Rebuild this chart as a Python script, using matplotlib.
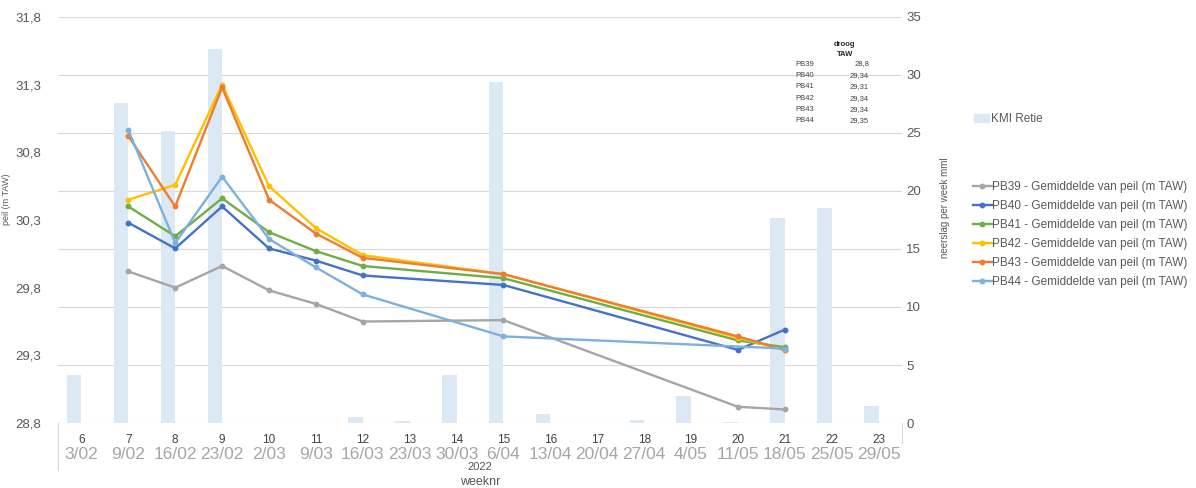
import numpy as np
import matplotlib.pyplot as plt
from matplotlib.lines import Line2D

plt.rcParams['font.family'] = ['Liberation Sans', 'DejaVu Sans']

weeks = [6, 7, 8, 9, 10, 11, 12, 13, 14, 15, 16, 17, 18, 19, 20, 21, 22, 23]
dates = ['3/02', '9/02', '16/02', '23/02', '2/03', '9/03', '16/03', '23/03', '30/03',
         '6/04', '13/04', '20/04', '27/04', '4/05', '11/05', '18/05', '25/05', '29/05']
rain = [4.1, 27.6, 25.2, 32.2, 0, 0, 0.5, 0.2, 4.1, 29.4, 0.8, 0, 0.3, 2.3, 0.1, 17.7, 18.5, 1.5]

meas_weeks = [7, 8, 9, 10, 11, 12, 15, 20, 21]
pb39 = [29.92, 29.80, 29.96, 29.78, 29.68, 29.55, 29.56, 28.92, 28.90]
pb40 = [30.28, 30.09, 30.40, 30.09, 30.00, 29.89, 29.82, 29.34, 29.49]
pb41 = [30.40, 30.18, 30.46, 30.21, 30.07, 29.96, 29.87, 29.41, 29.36]
pb42 = [30.45, 30.56, 31.30, 30.55, 30.24, 30.04, 29.90, 29.43, 29.34]
pb43 = [30.92, 30.40, 31.28, 30.45, 30.20, 30.02, 29.90, 29.44, 29.34]
pb44_weeks = [7, 8, 9, 10, 11, 12, 15, 21]
pb44 = [30.965, 30.13, 30.62, 30.16, 29.95, 29.75, 29.44, 29.35]

droog_names = ['PB39', 'PB40', 'PB41', 'PB42', 'PB43', 'PB44']
droog_vals = ['28,8', '29,34', '29,31', '29,34', '29,34', '29,35']

W, H = 1196, 488
fig = plt.figure(figsize=(W / 100, H / 100), dpi=100)
fig.patch.set_facecolor('white')
ax = fig.add_axes([58 / W, 65 / H, 844 / W, 406 / H])
ax2 = ax.twinx()

idx = {w: i for i, w in enumerate(weeks)}
x = np.arange(len(weeks))

# bars (right axis), drawn under the lines
ax2.bar(x, rain, width=-0.31, align='edge', color='#dde8f5', zorder=2)
ax2.set_ylim(0, 35)
ax2.set_yticks(range(0, 36, 5))
ax2.grid(axis='y', color='#d9d9d9', linewidth=0.8, zorder=0)
ax2.set_axisbelow(True)

ax.set_zorder(ax2.get_zorder() + 1)
ax.patch.set_visible(False)

series = [
    ('PB39', meas_weeks, pb39, '#a5a5a5'),
    ('PB40', meas_weeks, pb40, '#4472c4'),
    ('PB41', meas_weeks, pb41, '#70ad47'),
    ('PB42', meas_weeks, pb42, '#ffc000'),
    ('PB43', meas_weeks, pb43, '#ed7d31'),
    ('PB44', pb44_weeks, pb44, '#7eb0de'),
]
handles = []
for name, wk, vals, col in series:
    h, = ax.plot([idx[w] for w in wk], vals, color=col, lw=1.7, marker='o', ms=3.2,
                 label=name + ' - Gemiddelde van peil (m TAW)')
    handles.append(h)

ax.set_xlim(-0.5, len(weeks) - 0.5)
ax.set_ylim(28.8, 31.8)
ax.set_yticks(np.arange(28.8, 31.81, 0.5))
ax.set_yticklabels([('%.1f' % v).replace('.', ',') for v in np.arange(28.8, 31.81, 0.5)])
ax.set_xticks([])

for a in (ax, ax2):
    for s in a.spines.values():
        s.set_visible(False)
    a.tick_params(length=0, labelsize=9.5, labelcolor='#595959')
ax.tick_params(axis='y', pad=12)
ax2.tick_params(axis='y', pad=3)

ax.set_ylabel('peil (m TAW)', fontsize=6.5, color='#595959')
ax.yaxis.set_label_coords(-0.056, 0.55)
ax2.set_ylabel('neerslag per week mml', fontsize=7, color='#595959')
ax2.yaxis.set_label_coords(1.045, 0.53)

# multi-level category axis
tr = ax.get_xaxis_transform()
for i, (w, d) in enumerate(zip(weeks, dates)):
    ax.text(i, -0.043, str(w), transform=tr, ha='center', va='center', fontsize=8.5, color='#404040')
    ax.text(i, -0.078, d, transform=tr, ha='center', va='center', fontsize=12.5, color='#a6a6a6')
ax.text((len(weeks) - 1) / 2, -0.108, '2022', transform=tr, ha='center', va='center',
        fontsize=8, color='#595959')
ax.text((len(weeks) - 1) / 2, -0.145, 'weeknr', transform=tr, ha='center', va='center',
        fontsize=9, color='#595959')
fig.add_artist(Line2D([58 / W, 58 / W], [65 / H, 18 / H], color='#d9d9d9', lw=0.8))
fig.add_artist(Line2D([902 / W, 902 / W], [65 / H, 45 / H], color='#d9d9d9', lw=0.8))

# small table
fig.text(845 / W, 1 - 44 / H, 'droog', ha='center', va='center', fontsize=5.5, fontweight='bold', color='#262626')
fig.text(845 / W, 1 - 54 / H, 'TAW', ha='center', va='center', fontsize=5.5, fontweight='bold', color='#262626')
for k, (n, v) in enumerate(zip(droog_names, droog_vals)):
    yy = 1 - (64 + k * 11.4) / H
    fig.text(795 / W, yy, n, ha='left', va='center', fontsize=5.5, color='#404040')
    fig.text(869 / W, yy, v, ha='right', va='center', fontsize=5.5, color='#404040')

# legends
bar_handle = plt.Rectangle((0, 0), 1, 1, color='#dde8f5')
leg1 = fig.legend([bar_handle], ['KMI Retie'], loc='center left', bbox_to_anchor=(974 / W, 1 - 119 / H),
                  frameon=False, fontsize=8.5, borderpad=0, borderaxespad=0,
                  handlelength=1.3, handletextpad=0.15, labelcolor='#595959')
leg2 = fig.legend(handles, [h.get_label() for h in handles], loc='center left',
                  bbox_to_anchor=(973 / W, 1 - 234.5 / H), frameon=False, fontsize=8.5,
                  borderpad=0, borderaxespad=0, handlelength=1.6, handletextpad=0.05,
                  labelspacing=0.6, labelcolor='#595959')

fig.savefig('out.png', dpi=100)
